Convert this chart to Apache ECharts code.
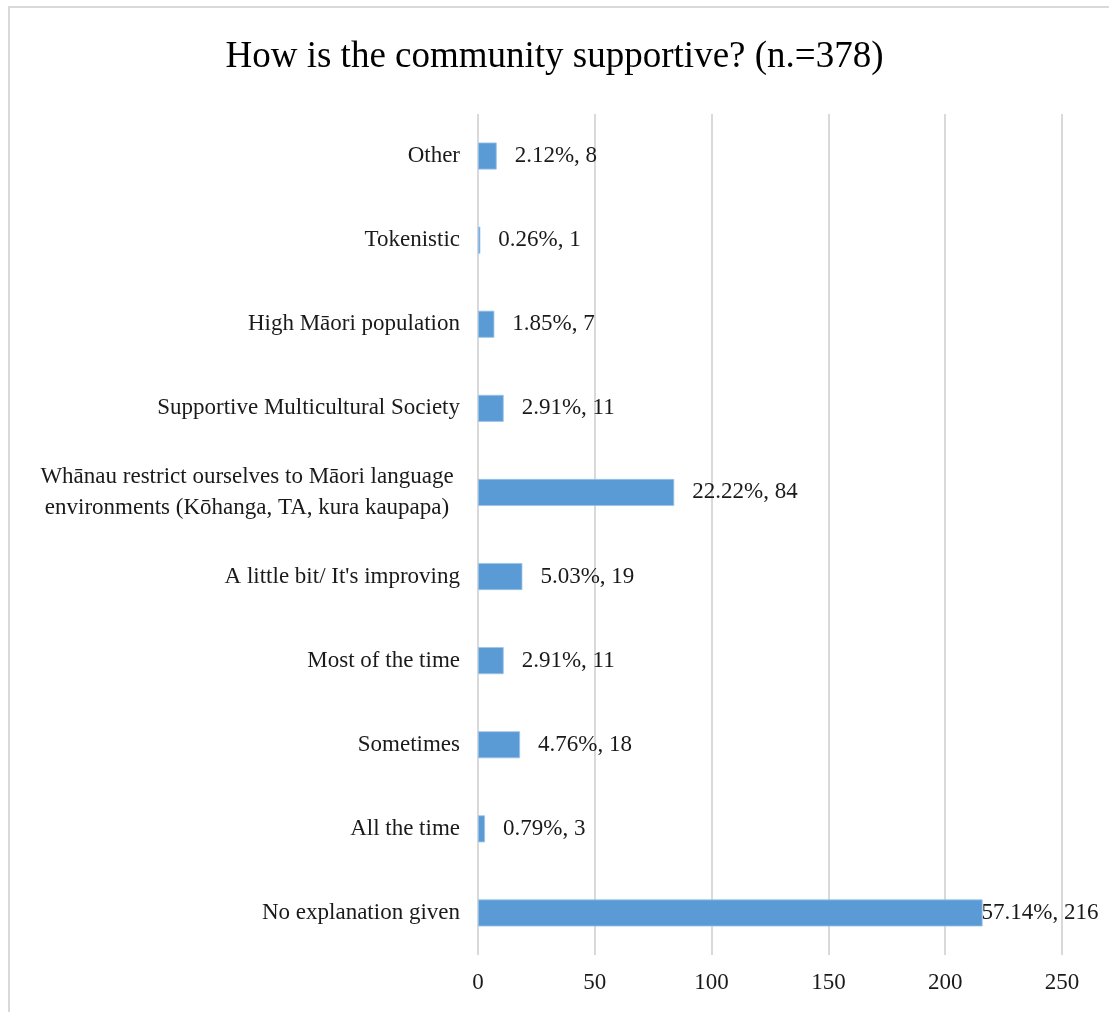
<!DOCTYPE html>
<html>
<head>
<meta charset="utf-8">
<script src="https://cdn.jsdelivr.net/npm/echarts@6/dist/echarts.min.js"></script>
<style>html,body{margin:0;padding:0;background:#fff;}#c{width:1109px;height:1012px;}</style>
</head>
<body>
<div id="c"></div>
<script>
const categories = [
  "Other",
  "Tokenistic",
  "High Māori population",
  "Supportive Multicultural Society",
  "Whānau restrict ourselves to Māori language\nenvironments (Kōhanga, TA, kura kaupapa)",
  "A little bit/ It's improving",
  "Most of the time",
  "Sometimes",
  "All the time",
  "No explanation given"
];
const counts = [8, 1, 7, 11, 84, 19, 11, 18, 3, 216];
const percents = ["2.12%", "0.26%", "1.85%", "2.91%", "22.22%", "5.03%", "2.91%", "4.76%", "0.79%", "57.14%"];
const xTicks = [0, 50, 100, 150, 200, 250];

const FONT = "'Liberation Serif', 'Times New Roman', serif";
const FS = 23;
const chart = echarts.init(document.getElementById('c'));
chart.setOption({
  animation: false,
  backgroundColor: '#fff',
  title: {
    text: 'How is the community supportive? (n.=378)',
    left: 'center',
    top: 34,
    textStyle: { fontFamily: FONT, fontSize: 37, fontWeight: 'normal', color: '#000' }
  },
  graphic: [{
    type: 'rect',
    shape: { x: 9, y: 7, width: 1120, height: 1030 },
    style: { fill: 'none', stroke: '#d9d9d9', lineWidth: 2 },
    silent: true
  }],
  grid: { left: 478, right: 47, top: 114, bottom: 57, containLabel: false },
  xAxis: {
    type: 'value',
    min: xTicks[0],
    max: xTicks[xTicks.length - 1],
    interval: 50,
    axisLine: { show: false },
    axisTick: { show: false },
    splitLine: { lineStyle: { color: '#d9d9d9', width: 2 } },
    axisLabel: { fontFamily: FONT, fontSize: FS, color: '#1a1a1a', margin: 16 }
  },
  yAxis: {
    type: 'category',
    inverse: true,
    data: categories,
    axisLine: { show: false },
    axisTick: { show: false },
    axisLabel: {
      fontFamily: FONT, fontSize: FS, color: '#1a1a1a', margin: 18,
      lineHeight: 30,
      formatter: function (v) {
        return v.indexOf('\n') >= 0 ? '{c|' + v.split('\n').join('}\n{c|') + '}' : v;
      },
      rich: { c: { fontFamily: FONT, fontSize: FS, color: '#1a1a1a', align: 'center', width: 426, lineHeight: 31 } }
    }
  },
  series: [{
    type: 'bar',
    data: counts.map(function (v, i) {
      const d = { value: v };
      if (v === 216) d.label = { distance: -1 };
      return d;
    }),
    barWidth: 27,
    itemStyle: { color: '#5b9bd5', borderColor: '#9cc3e8', borderWidth: 0.8 },
    label: {
      show: true,
      position: 'right',
      distance: 18,
      fontFamily: FONT,
      fontSize: FS,
      color: '#1a1a1a',
      formatter: function (p) { return percents[p.dataIndex] + ', ' + p.value; }
    }
  }]
});
</script>
</body>
</html>
